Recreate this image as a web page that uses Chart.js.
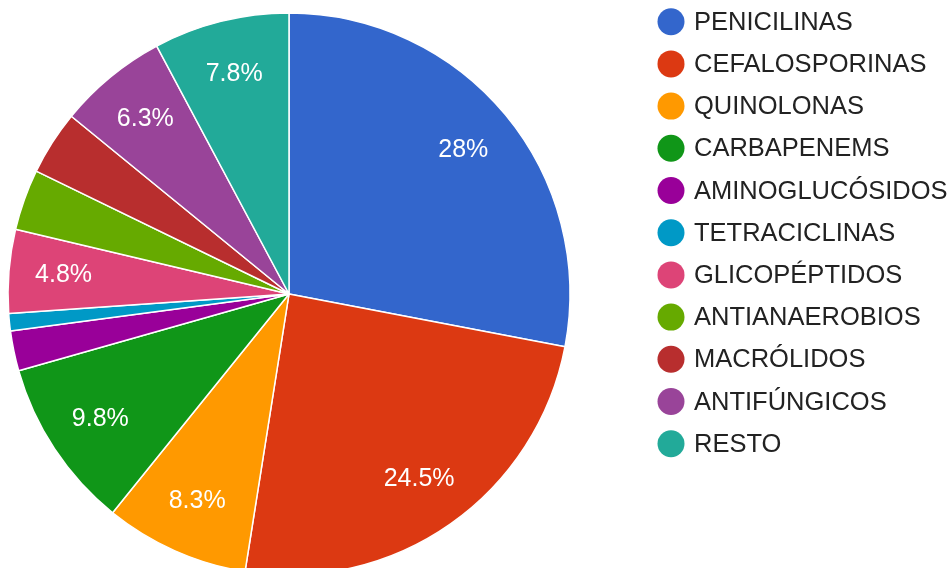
<!DOCTYPE html>
<html>
<head>
<meta charset="utf-8">
<script src="https://cdn.jsdelivr.net/npm/chart.js@4"></script>
<style>
  html, body { margin: 0; padding: 0; background: #ffffff; overflow: hidden; }
  #wrap { position: relative; width: 950px; height: 568px; }
</style>
</head>
<body>
<div id="wrap"><canvas id="antibioticos"></canvas></div>
<script>
const categorias = ['PENICILINAS', 'CEFALOSPORINAS', 'QUINOLONAS', 'CARBAPENEMS', 'AMINOGLUCÓSIDOS',
    'TETRACICLINAS', 'GLICOPÉPTIDOS', 'ANTIANAEROBIOS', 'MACRÓLIDOS', 'ANTIFÚNGICOS', 'RESTO'];
const porcentajes = [28, 24.5, 8.3, 9.8, 2.3, 1.0, 4.8, 3.5, 3.7, 6.3, 7.8];
const colores = ['#3366cc', '#dc3912', '#ff9900', '#109618', '#990099',
    '#0099c6', '#dd4477', '#66aa00', '#b82e2e', '#994499', '#22aa99'];

// etiquetas blancas dentro de las porciones grandes
const etiquetasPlugin = {
    id: 'etiquetas',
    afterDatasetsDraw(chart) {
        const ctx = chart.ctx;
        const meta = chart.getDatasetMeta(0);
        ctx.save();
        ctx.font = '25px "Liberation Sans", Arial, sans-serif';
        ctx.fillStyle = '#ffffff';
        ctx.textAlign = 'center';
        ctx.textBaseline = 'middle';
        meta.data.forEach((arc, i) => {
            const v = porcentajes[i];
            if (v < 4.5) return;
            const p = arc.getProps(['x', 'y', 'startAngle', 'endAngle', 'outerRadius'], true);
            const mid = (p.startAngle + p.endAngle) / 2;
            const r = p.outerRadius * 0.805;
            ctx.fillText(v + '%', p.x + Math.cos(mid) * r, p.y + Math.sin(mid) * r);
        });
        ctx.restore();
    }
};

// leyenda a la derecha con circulos
const leyendaPlugin = {
    id: 'leyenda',
    afterDraw(chart) {
        const ctx = chart.ctx;
        ctx.save();
        ctx.font = '25.5px "Liberation Sans", Arial, sans-serif';
        ctx.textBaseline = 'middle';
        ctx.textAlign = 'left';
        categorias.forEach((nombre, i) => {
            const y = 21.7 + i * 42.2;
            ctx.beginPath();
            ctx.arc(671, y, 13.5, 0, Math.PI * 2);
            ctx.fillStyle = colores[i];
            ctx.fill();
            ctx.fillStyle = '#222222';
            ctx.fillText(nombre, 694, y + 1);
        });
        ctx.restore();
    }
};

const ctx_pie = document.getElementById('antibioticos');
if (ctx_pie) {
    new Chart(ctx_pie, {
        type: 'pie',
        data: {
            labels: categorias,
            datasets: [
                {
                    data: porcentajes,
                    backgroundColor: colores,
                    borderColor: '#ffffff',
                    borderWidth: 1.5,
                    radius: 281,
                    clip: false
                },
            ]
        },
        options: {
            responsive: true,
            maintainAspectRatio: false,
            animation: false,
            layout: {
                padding: { left: 0, right: 372, top: 20, bottom: 0 }
            },
            plugins: {
                legend: { display: false },
                tooltip: { enabled: false }
            }
        },
        plugins: [etiquetasPlugin, leyendaPlugin]
    });
}
</script>
</body>
</html>
